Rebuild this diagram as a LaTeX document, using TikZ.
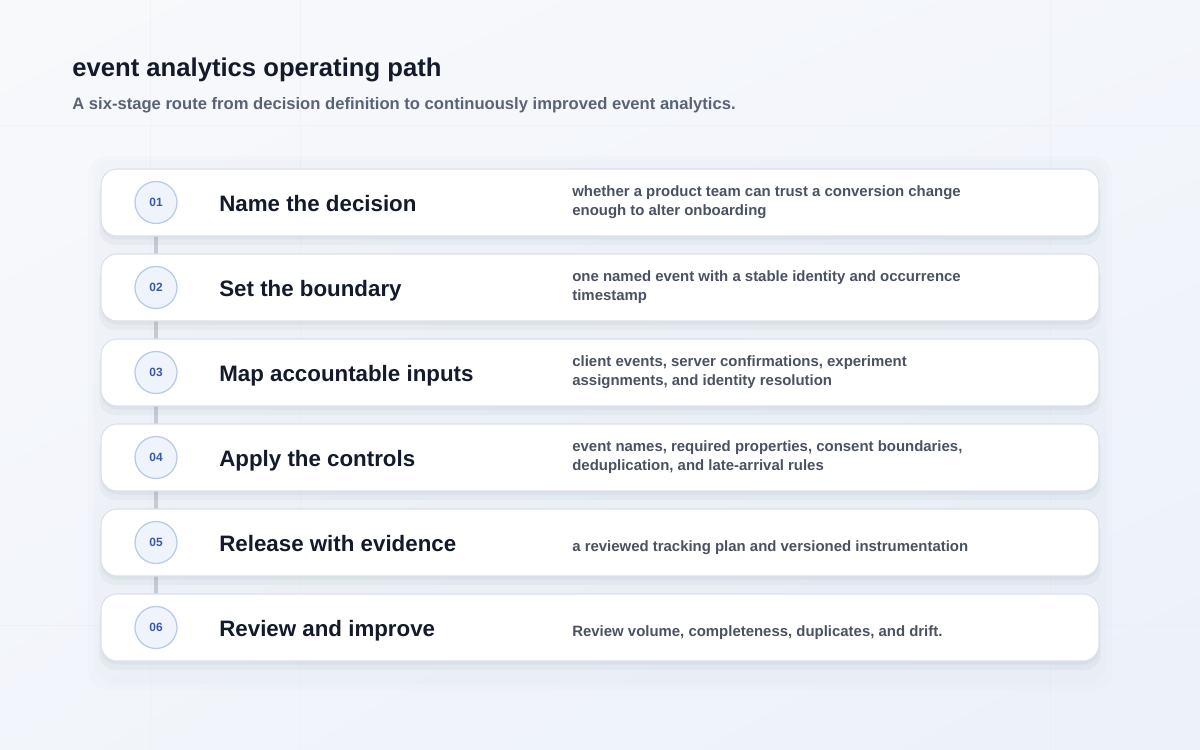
\documentclass[tikz,border=0pt]{standalone}
\usepackage{fontspec}
\setmainfont{Liberation Sans}
\usetikzlibrary{shadows,shadings}

\definecolor{pagetop}{HTML}{F8F9FB}
\definecolor{pagelow}{HTML}{ECF1FA}
\definecolor{gridline}{HTML}{E6E9EF}
\definecolor{inkdark}{HTML}{131A2B}
\definecolor{inksub}{HTML}{5A6376}
\definecolor{inknote}{HTML}{4A5262}
\definecolor{cardline}{HTML}{DCE0E8}
\definecolor{shadowblue}{HTML}{6C7A99}
\definecolor{badgefill}{HTML}{EEF3FC}
\definecolor{badgeline}{HTML}{B8CAE8}
\definecolor{badgetext}{HTML}{3A5AA6}
\definecolor{linkgray}{HTML}{C6CAD2}

\tikzset{
  card/.style={draw=cardline, line width=0.6pt, fill=white, rounded corners=0.32cm,
    minimum width=19.96cm, minimum height=1.34cm,
    drop shadow={shadow xshift=0pt, shadow yshift=-5pt, shadow scale=1.004, opacity=0.06, fill=shadowblue},
    drop shadow={shadow xshift=0pt, shadow yshift=-2pt, opacity=0.07, fill=shadowblue}},
  badge/.style={circle, draw=badgeline, line width=0.7pt, fill=badgefill, minimum size=0.84cm,
    inner sep=0pt, text=badgetext, font=\fontsize{6.8}{8}\selectfont\bfseries},
  stagename/.style={anchor=base west, inner sep=0pt, text=inkdark,
    font=\fontsize{12.7}{15}\selectfont\bfseries},
  stagenote/.style={anchor=west, align=left, inner sep=0pt, text=inknote,
    font=\fontsize{8.5}{10.8}\selectfont\bfseries},
  link/.style={draw=linkgray, line width=2.2pt}
}

\begin{document}
\begin{tikzpicture}[x=0.02cm, y=-0.02cm]
  \useasboundingbox (0,0) rectangle (1200,750);
  % page
  \shade[upper left=pagetop, upper right=pagetop!60!pagelow, lower left=pagetop!50!pagelow, lower right=pagelow]
    (0,0) rectangle (1200,750);
  \draw[gridline, line width=0.5pt, opacity=0.35] (150,0) -- (150,750) (300,0) -- (300,750)
    (1050,0) -- (1050,750) (0,125) -- (1200,125) (0,625) -- (1200,625);
  \fill[shadowblue, opacity=0.02, rounded corners=0.4cm] (88,156) rectangle (1112,690);
  \fill[shadowblue, opacity=0.015, rounded corners=0.4cm] (94,160) rectangle (1106,684);

  % heading
  \node[anchor=base west, inner sep=0pt, text=inkdark, font=\fontsize{14.6}{17}\selectfont\bfseries]
    (heading) at (72,77) {event analytics operating path};
  \node[anchor=base west, inner sep=0pt, text=inksub, font=\fontsize{9.45}{11}\selectfont\bfseries]
    (subheading) at (72,110) {A six-stage route from decision definition to continuously improved event analytics.};

  % spine behind the cards
  \coordinate (k1) at (156,202.5);
  \coordinate (k2) at (156,287.5);
  \coordinate (k3) at (156,372.5);
  \coordinate (k4) at (156,457.5);
  \coordinate (k5) at (156,542.5);
  \coordinate (k6) at (156,627.5);
  \draw[link] (k1) -- (k2);
  \draw[link] (k2) -- (k3);
  \draw[link] (k3) -- (k4);
  \draw[link] (k4) -- (k5);
  \draw[link] (k5) -- (k6);

  % stages
  \node[card] (c1) at (600,202.5) {};
  \node[card] (c2) at (600,287.5) {};
  \node[card] (c3) at (600,372.5) {};
  \node[card] (c4) at (600,457.5) {};
  \node[card] (c5) at (600,542.5) {};
  \node[card] (c6) at (600,627.5) {};

  \node[badge] (b1) at (k1) {01};
  \node[badge] (b2) at (k2) {02};
  \node[badge] (b3) at (k3) {03};
  \node[badge] (b4) at (k4) {04};
  \node[badge] (b5) at (k5) {05};
  \node[badge] (b6) at (k6) {06};

  \node[stagename] (n1) at (219,211.5) {Name the decision};
  \node[stagename] (n2) at (219,296.5) {Set the boundary};
  \node[stagename] (n3) at (219,381.5) {Map accountable inputs};
  \node[stagename] (n4) at (219,466.5) {Apply the controls};
  \node[stagename] (n5) at (219,551.5) {Release with evidence};
  \node[stagename] (n6) at (219,636.5) {Review and improve};

  \node[stagenote] (d1) at (572,202) {whether a product team can trust a conversion change\\enough to alter onboarding};
  \node[stagenote] (d2) at (572,287) {one named event with a stable identity and occurrence\\timestamp};
  \node[stagenote] (d3) at (572,372) {client events, server confirmations, experiment\\assignments, and identity resolution};
  \node[stagenote] (d4) at (572,457) {event names, required properties, consent boundaries,\\deduplication, and late-arrival rules};
  \node[stagenote] (d5) at (572,548) {a reviewed tracking plan and versioned instrumentation};
  \node[stagenote] (d6) at (572,633) {Review volume, completeness, duplicates, and drift.};
\end{tikzpicture}
\end{document}
